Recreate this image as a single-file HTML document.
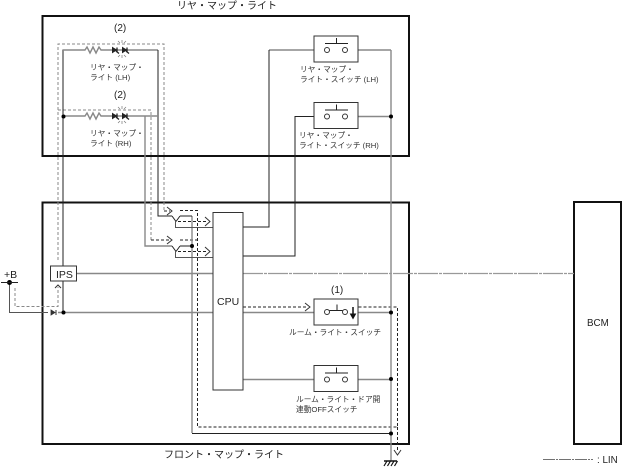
<!DOCTYPE html>
<html><head><meta charset="utf-8"><style>
html,body{margin:0;padding:0;background:#fff}
svg{display:block}
text{font-family:"Liberation Sans","Noto Sans CJK JP",sans-serif;fill:#222}
.b{fill:none;stroke:#111;stroke-width:2}
.s{fill:none;stroke:#555;stroke-width:1}
.g{fill:none;stroke:#888;stroke-width:1.4}
.k{fill:none;stroke:#222;stroke-width:1}
.d{fill:none;stroke:#888;stroke-width:1;stroke-dasharray:3 2}
.e{fill:none;stroke:#222;stroke-width:1;stroke-dasharray:3 2}
.a{fill:none;stroke:#333;stroke-width:1}
.l{font-size:7.7px;fill:#333}
</style></head><body>
<svg xmlns="http://www.w3.org/2000/svg" width="623" height="468" viewBox="0 0 623 468">
<defs>
<g id="sw"><rect x="0" y="0" width="44" height="26" fill="#fff" stroke="#333" stroke-width="1"/>
<path d="M11 7.500H34M22.500 2V7.500" class="k"/>
<circle cx="13" cy="14" r="2.500" fill="#fff" stroke="#333"/><circle cx="31" cy="14" r="2.500" fill="#fff" stroke="#333"/></g>
<g id="lamp">
<path d="M0 0H22L24 -3L27 3L30 -3L33 3L36 -3L38 0H95" class="g" stroke-width="1"/>
<path d="M49.500 -2.500L53.500 0L49.500 2.500Z" fill="#222" stroke="#222"/><path d="M54 -2.500V2.500M53 1L56 3.500" stroke="#222" stroke-width="1.300"/>
<path d="M59.500 -2.500L63.500 0L59.500 2.500Z" fill="#222" stroke="#222"/><path d="M64 -2.500V2.500M63 1L66 3.500" stroke="#222" stroke-width="1.300"/>
<path d="M55 -9L57 -7M59 -10V-7M63 -9L61 -7M55 7L57 5M59 8V5M63 7L61 5" stroke="#777" stroke-width=".7"/>
</g>
</defs>

<rect class="b" x="42.500" y="16" width="366.500" height="140"/>
<rect class="b" x="42.500" y="202.500" width="366.500" height="241.500"/>
<rect class="b" x="574" y="202" width="47" height="242"/>

<!-- dashed current paths -->
<path class="d" d="M58 260V44H164V211"/>
<path class="d" d="M58 110H151V240"/>
<path class="d" d="M15 288V306.500H58V287"/>
<path class="a" d="M55 288L58 285L61 288"/>
<path class="e" d="M164 211H170M151 240H170"/>
<path class="a" d="M167 207L172 211L167 215M167 236L172 240L167 244"/>
<path class="e" d="M180 210.500H197.500V427H397.500V307H358M180 240H197.500"/>
<path class="e" d="M178 221.500H208M178 251.500H208M243 307H308"/>
<path class="a" d="M205 217L210 221.500L205 226M205 247L210 251.500L205 256M305 303L310 307L305 311"/>
<path class="e" d="M397.500 427V452"/>
<path class="a" d="M394 450L397.500 455L401 450"/>

<!-- wires -->
<path class="k" d="M63 266V50H85"/>
<use href="#lamp" x="63" y="50"/>
<path class="k" d="M158 50V216H172"/>
<use href="#lamp" x="63" y="116"/>
<path class="g" d="M145 116V246H172"/>
<path class="k" d="M63 281V312"/>
<path class="s" d="M9.500 282V312.500H48"/>
<path class="g" d="M58 312.500H213"/>
<path class="g" d="M76 273.500H213"/>
<path class="g" d="M243 312.500H314M243 379.500H314M358 312.500H391M358 379.500H391M358 116.500H391M348 50H391"/>
<path class="g" d="M269 50H315"/>
<path class="k" d="M243 227H269V50"/>
<path class="k" d="M243 256H295V116.500H324"/>
<path class="g" d="M391 50V461"/>
<path class="g" d="M192 216V433"/>
<path class="k" d="M192 433.500H391"/>
<path class="k" d="M172 216L176 221.500M180 216L176 221.500M180 216H192M172 246L176 251.500M180 246L176 251.500M180 246H192"/>
<path class="s" d="M175.500 221V227.500H213M175.500 251V257.500H213"/>
<path d="M243 273.500H574" stroke="#999" stroke-width="1.300" stroke-dasharray="20 1 3 1" fill="none"/>

<!-- diode, dots -->
<path d="M51 310V315L55 312.500Z" fill="#333" stroke="#333" stroke-width=".8"/><path d="M56 310V315" stroke="#333"/>
<g fill="#000">
<circle cx="63.500" cy="116.500" r="2"/><circle cx="63.500" cy="312.500" r="2"/><circle cx="9.500" cy="282.500" r="2.500"/>
<circle cx="391" cy="116.500" r="2"/><circle cx="391" cy="312.500" r="2"/><circle cx="391" cy="379" r="2"/><circle cx="391" cy="433.500" r="2"/>
<circle cx="192" cy="246" r="2"/>
</g>
<path class="k" d="M1 282.500H18"/>

<!-- components -->
<rect x="50.500" y="266" width="26" height="15" fill="#fff" stroke="#333"/>
<rect x="213" y="212.500" width="30" height="177.500" fill="#fff" stroke="#333"/>
<use href="#sw" x="314" y="36"/>
<use href="#sw" x="314" y="102.500"/>
<rect x="314" y="299" width="44" height="26" fill="#fff" stroke="#333"/>
<path class="k" d="M329.500 310.500H342.500M337 304.500V310.500"/>
<circle cx="327" cy="312" r="2.500" fill="#fff" stroke="#333"/><circle cx="345" cy="312" r="2.500" fill="#fff" stroke="#333"/>
<path d="M353 307V316" stroke="#111" stroke-width="1.500"/><path d="M350.500 314L353 318.500L355.500 314Z" fill="#111" stroke="#111"/>
<use href="#sw" x="314" y="365.500"/>
<path d="M384 461H397" stroke="#111" stroke-width="1.500"/>
<path d="M384 466L387 461M387.500 466L390.500 461M391 466L394 461M394.500 466L397.500 461" stroke="#111" stroke-width="1.200"/>

<!-- text -->
<text x="177" y="9" font-size="10">リヤ・マップ・ライト</text>
<text x="164" y="458" font-size="10">フロント・マップ・ライト</text>
<text x="114" y="31" font-size="10">(2)</text>
<text x="114" y="98" font-size="10">(2)</text>
<text class="l" x="90" y="70">リヤ・マップ・</text><text class="l" x="90" y="80">ライト (LH)</text>
<text class="l" x="90" y="136">リヤ・マップ・</text><text class="l" x="90" y="146">ライト (RH)</text>
<text class="l" x="300" y="72">リヤ・マップ・</text><text class="l" x="300" y="82">ライト・スイッチ (LH)</text>
<text class="l" x="299" y="138">リヤ・マップ・</text><text class="l" x="299" y="148">ライト・スイッチ (RH)</text>
<text x="331" y="293" font-size="10">(1)</text>
<text class="l" x="289" y="335">ルーム・ライト・スイッチ</text>
<text class="l" x="296" y="402">ルーム・ライト・ドア開</text>
<text class="l" x="296" y="412">連動OFFスイッチ</text>
<text x="217" y="305" font-size="10.500">CPU</text>
<text x="56" y="278" font-size="10.500">IPS</text>
<text x="4" y="278" font-size="10.500">+B</text>
<text x="587" y="326" font-size="9.800">BCM</text>
<path d="M543 459.500H593" stroke="#444" stroke-width=".8" stroke-dasharray="12 1 2 1" fill="none"/>
<text x="597" y="463" font-size="9.800">: LIN</text>
</svg>
</body></html>
